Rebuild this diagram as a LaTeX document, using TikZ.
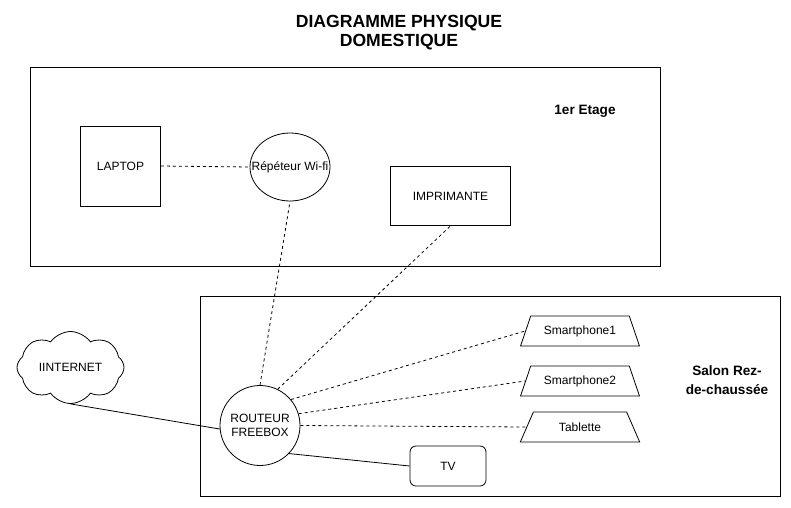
\documentclass[tikz,border=0pt]{standalone}
\usepackage{fontspec}
\setmainfont{Liberation Sans}
\usetikzlibrary{shapes.geometric,shapes.symbols}
\begin{document}
\begin{tikzpicture}[x=1pt,y=-1pt,
  every node/.style={font=\fontsize{12}{14}\selectfont, inner sep=1pt},
  box/.style={draw, line width=0.8pt, rectangle},
  floorbox/.style={draw, line width=0.8pt, rectangle, inner sep=0pt},
  roundbox/.style={draw, line width=0.8pt, rectangle, rounded corners=6pt},
  oval/.style={draw, line width=0.8pt, ellipse, inner sep=0pt},
  round/.style={draw, line width=0.8pt, circle, inner sep=0pt, align=center},
  trap/.style={draw, line width=0.8pt, trapezium, trapezium stretches=true,
    trapezium left angle=56.31, trapezium right angle=56.31,
    minimum width=120pt, minimum height=30pt, inner sep=0pt},
  cloudshape/.style={draw, line width=0.8pt, cloud, cloud puffs=8, cloud puff arc=110,
    cloud ignores aspect, minimum width=107pt, minimum height=72pt, inner sep=0pt},
  boldlabel/.style={font=\fontsize{13.6}{18.5}\selectfont\bfseries, align=center},
  titlelabel/.style={font=\fontsize{17.6}{18.7}\selectfont\bfseries, align=center},
  dashedlink/.style={line width=0.8pt, dash pattern=on 3pt off 3pt},
  solidlink/.style={line width=0.8pt}
]
\useasboundingbox (0,0) rectangle (791,507);

% title
\node[titlelabel] (title) at (399,32.5) {DIAGRAMME PHYSIQUE\\DOMESTIQUE};

% floors
\node[floorbox, minimum width=630pt, minimum height=199pt] (etage) at (345,166.5) {};
\node[floorbox, minimum width=580pt, minimum height=200pt] (salon) at (490,396) {};
\node[boldlabel] (etagelbl) at (585,111.5) {1er Etage};
\node[boldlabel] (salonlbl) at (727,380) {Salon Rez-\\de-chaussée};

% devices
\node[box, minimum width=80pt, minimum height=80pt] (laptop) at (120.5,166) {LAPTOP};
\node[oval, minimum width=80pt, minimum height=68pt] (rep) at (290,167) {};
\node (reptext) at (rep.center) {Répéteur Wi-fi};
\node[box, minimum width=120pt, minimum height=59pt] (printer) at (450.5,196) {IMPRIMANTE};
\node[cloudshape] (inet) at (70.5,367.5) {};
\node (inettext) at (inet.center) {IINTERNET};
\node[round, minimum size=80pt] (router) at (260,425.5) {ROUTEUR\\FREEBOX};
\node[trap] (sp1) at (580,331) {Smartphone1};
\node[trap] (sp2) at (580,381) {Smartphone2};
\node[trap] (tab) at (580,427) {Tablette};
\node[roundbox, minimum width=76pt, minimum height=40pt] (tv) at (448,466) {TV};

% links
\draw[dashedlink] (laptop.east) -- (rep.west);
\draw[dashedlink] (router.north) -- (rep.south);
\draw[dashedlink] (router.64) -- (printer.south);
\draw[dashedlink] (router.40) -- (sp1.left side);
\draw[dashedlink] (router.17) -- (sp2.left side);
\draw[dashedlink] (router.east) -- (tab.left side);
\draw[solidlink] (inet.south) -- (router.185);
\draw[solidlink] (router.-44) -- (tv.west);
\end{tikzpicture}
\end{document}
